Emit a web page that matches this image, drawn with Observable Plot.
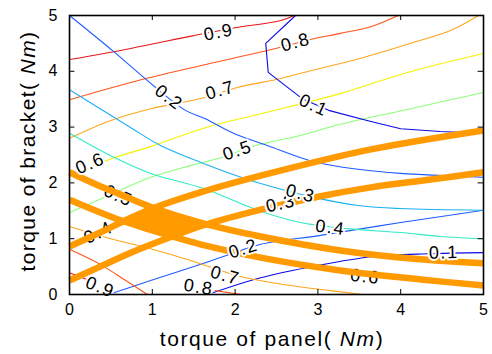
<!DOCTYPE html>
<html><head><meta charset="utf-8">
<script src="https://cdn.jsdelivr.net/npm/d3@7"></script>
<script src="https://cdn.jsdelivr.net/npm/@observablehq/plot@0.6"></script>
<style>
body{margin:0;background:#fff;}
#chart svg{display:block;}
#chart svg g[aria-label="text"] text{letter-spacing:1.6px;}
</style>
</head><body><div id="chart"></div>
<script>
// ---- data ----
const xTicks = [0, 1, 2, 3, 4, 5];
const yTicks = [0, 1, 2, 3, 4, 5];
const levels = [0.1, 0.2, 0.3, 0.4, 0.5, 0.6, 0.7, 0.8, 0.9];

// contour family rising with panel torque
const rise09 = [[0,4.21],[0.74,4.41],[1.50,4.64],[2.00,4.78],[2.55,4.91],[2.71,5.0]];
const rise08 = [[0,3.49],[0.74,3.80],[1.58,4.10],[2.55,4.43],[2.91,4.57],[3.27,4.68],[3.64,4.80],[3.97,5.0]];
const rise07 = [[0,2.80],[0.50,3.12],[0.98,3.33],[1.64,3.53],[2.03,3.71],[2.55,3.87],[2.91,4.01],[3.51,4.23],[4.12,4.50],[4.60,4.73],[4.94,5.0]];
const rise06 = [[0,2.11],[0.52,2.44],[0.98,2.65],[1.64,2.99],[2.31,3.24],[3.27,3.60],[4.08,3.98],[5.0,4.32]];
const rise05 = [[0,1.47],[0.50,1.79],[0.94,2.08],[1.46,2.31],[1.85,2.46],[2.25,2.67],[2.79,2.85],[3.27,3.05],[4.12,3.33],[5.0,3.62]];
const rise04 = [[0,0.86],[0.37,1.11],[0.62,1.29],[1.00,1.54],[1.58,1.83],[2.31,2.13],[3.64,2.60],[5.0,2.94]];
const rise03 = [[0,0.25],[0.37,0.50],[0.74,0.75],[1.24,1.04],[1.64,1.25],[2.31,1.52],[3.03,1.76],[3.64,1.92],[4.36,2.06],[5.0,2.19]];
const rise02 = [[0.47,0],[0.98,0.25],[1.64,0.57],[1.94,0.72],[2.31,0.90],[3.03,1.06],[4.0,1.29],[5.0,1.51]];
const rise01 = [[1.67,0],[2.31,0.30],[3.0,0.52],[3.67,0.68],[4.32,0.73],[5.0,0.75]];

// contour family falling with panel torque
const fall01 = [[2.73,5.0],[2.37,4.50],[2.40,3.98],[2.81,3.51],[3.13,3.30],[3.64,3.10],[4.0,2.97],[4.48,2.92],[5.0,2.89]];
const fall02 = [[0,5.0],[0.52,4.37],[1.04,3.71],[1.40,3.30],[1.64,3.15],[1.98,2.89],[2.39,2.67],[2.95,2.38],[3.51,2.24],[4.0,2.17],[5.0,2.10]];
const fall03 = [[0,3.67],[0.37,3.33],[0.74,2.99],[1.10,2.67],[1.58,2.37],[1.94,2.17],[2.31,1.99],[2.95,1.74],[3.51,1.59],[4.0,1.54],[5.0,1.51]];
const fall04 = [[0,2.89],[0.56,2.44],[0.98,2.17],[1.62,1.90],[2.07,1.63],[2.39,1.45],[2.79,1.29],[3.36,1.18],[4.0,1.11],[4.48,1.04],[5.0,1.0]];
const fall05 = [[0,2.19],[0.37,1.94],[0.62,1.79],[1.0,1.56],[1.58,1.29],[2.31,1.04],[3.27,0.79],[4.24,0.63],[5.0,0.56]];
const fall06 = [[0,1.70],[0.62,1.33],[1.24,1.04],[1.58,0.90],[2.31,0.66],[3.27,0.43],[4.24,0.27],[5.0,0.16]];
const fall07 = [[0,1.22],[0.50,1.00],[0.98,0.82],[1.46,0.61],[1.68,0.50],[2.13,0.30],[2.67,0.16],[3.15,0.07],[3.54,0]];
const fall08 = [[0,0.81],[0.37,0.54],[0.68,0.25],[0.94,0]];
const fall08b = [[1.76,0.07],[2.07,0]];
const fall09 = [[0,0.39],[0.21,0.27]];

// feasible overlap of the two highlighted bands
const overlap = [[0.62,1.30],[1.0,1.55],[1.64,1.25],[1.24,1.04]];

// contour labels: text, x, y
const labelText = ["0.9","0.8","0.7","0.2","0.1","0.6","0.5","0.4","0.2","0.7","0.1","0.9","0.8","0.5","0.4","0.6","0.3","0.3"];
const labelX    = [1.80, 2.73, 1.82, 1.20, 2.95, 0.25, 2.03, 3.15, 2.10, 1.88, 4.52, 0.37, 1.56, 0.59, 0.35, 3.57, 2.55, 2.79];
const labelY    = [4.70, 4.52, 3.66, 3.53, 3.39, 2.35, 2.58, 1.20, 0.82, 0.34, 0.75, 0.13, 0.13, 1.77, 1.11, 0.32, 1.63, 1.81];

// ---- styling ----
const colorOf = {0.1:"#0a0ae6",0.2:"#1d5cff",0.3:"#1cb0f5",0.4:"#30ecc4",0.5:"#8cff78",0.6:"#f2f200",0.7:"#ffa51c",0.8:"#ff5518",0.9:"#e81818"};
const band = "#ff9a00";
const thin = [
  [rise09,0.9],[rise08,0.8],[rise07,0.7],[rise06,0.6],[rise05,0.5],[rise02,0.2],[rise01,0.1],
  [fall02,0.2],[fall03,0.3],[fall04,0.4],[fall07,0.7],[fall08,0.8],[fall08b,0.8],[fall09,0.9]
];
const rot = [-11,-15,-16,38,25,-23,-19,7,-18,16,-1,22,9,24,-26,6,-13,14];
const labels = labelText.map((t,i)=>({t, x:labelX[i], y:labelY[i], r:rot[i]}));
const under = labels.slice(13,16), over = labels.slice(0,13).concat(labels.slice(16));

const P = d => d[0], Q = d => d[1];
const marks = [];
for (const [pts, lv] of thin) marks.push(Plot.line(pts, {x:P, y:Q, stroke:colorOf[lv], strokeWidth:1.1, curve:"catmull-rom"}));
marks.push(Plot.line(fall01, {x:P, y:Q, stroke:colorOf[0.1], strokeWidth:1.1}));
const txt = (data) => Plot.text(data, {x:"x", y:"y", text:"t", rotate:"r", fontSize:18, fill:"black", stroke:"white", strokeWidth:4, paintOrder:"stroke", strokeLinejoin:"round"});
marks.push(txt(under));
for (const pts of [rise04, rise03, fall05, fall06]) marks.push(Plot.line(pts, {x:P, y:Q, stroke:band, strokeWidth:6.5, curve:"catmull-rom", strokeLinecap:"butt"}));
marks.push(Plot.line(overlap, {x:P, y:Q, stroke:band, fill:band, strokeWidth:2}));
marks.push(txt(over));
marks.push(Plot.ruleX(xTicks, {x:d=>d, y1:0, y2:0.09, stroke:"black"}));
marks.push(Plot.ruleX(xTicks, {x:d=>d, y1:4.91, y2:5, stroke:"black"}));
marks.push(Plot.ruleY(yTicks, {y:d=>d, x1:0, x2:0.065, stroke:"black"}));
marks.push(Plot.ruleY(yTicks, {y:d=>d, x1:4.935, x2:5, stroke:"black"}));
marks.push(Plot.frame({stroke:"black", strokeWidth:1.6}));

const chart = Plot.plot({
  width: 492, height: 354,
  marginLeft: 69, marginRight: 9, marginTop: 15, marginBottom: 60,
  style: {fontFamily: "'Liberation Sans', Arial, sans-serif", fontSize: "16px", background: "white", color: "black"},
  x: {domain: [0,5], ticks: xTicks, tickFormat: d => String(d), tickSize: 0, tickPadding: 9, label: null},
  y: {domain: [0,5], ticks: yTicks, tickFormat: d => String(d), tickSize: 0, tickPadding: 12, label: null},
  marks
});
document.getElementById("chart").appendChild(chart);

const svg = d3.select(chart);
const xt = svg.append("text").attr("x", 272).attr("y", 346).attr("text-anchor","middle")
  .attr("font-size", 21).attr("letter-spacing","1.6px").attr("fill","black");
xt.append("tspan").text("torque of panel( ");
xt.append("tspan").attr("font-style","italic").text("Nm");
xt.append("tspan").text(")");
const yt = svg.append("text").attr("transform","translate(35,151) rotate(-90)").attr("text-anchor","middle")
  .attr("font-size", 21).attr("letter-spacing","1.4px").attr("fill","black");
yt.append("tspan").text("torque of bracket( ");
yt.append("tspan").attr("font-style","italic").text("Nm");
yt.append("tspan").text(")");
</script>
</body></html>
